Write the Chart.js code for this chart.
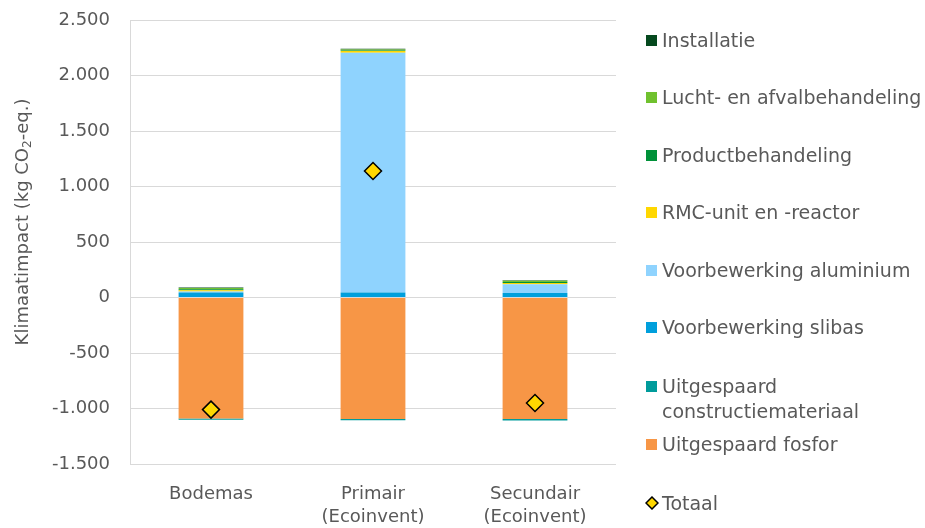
<!DOCTYPE html>
<html>
<head>
<meta charset="utf-8">
<script src="https://cdn.jsdelivr.net/npm/chart.js@4/dist/chart.umd.min.js"></script>
<style>
  html, body { margin: 0; padding: 0; background: #fff; }
  #wrap { position: relative; width: 925px; height: 528px; }
  canvas { position: absolute; left: 0; top: 0; }
  .lg { position: absolute; left: 646px; font-family: "DejaVu Sans", sans-serif; font-size: 19px; color: #595959; line-height: 25px; white-space: nowrap; }
  .lg .sw { position: absolute; left: 0; top: 7px; width: 11px; height: 11px; }
  .lg .tx { position: absolute; left: 16px; top: 0; }
</style>
</head>
<body>
<div id="wrap">
  <canvas id="c" width="925" height="528"></canvas>
  <div id="legend"></div>
</div>
<script>
// ---- data ----
const categories = ['Bodemas', ['Primair', '(Ecoinvent)'], ['Secundair', '(Ecoinvent)']];
const uitgespaardFosfor = [-1090, -1095, -1095];
const uitgespaardConstructie = [-12, -10, -12];
const voorbewerkingSlibas = [45, 45, 40];
const voorbewerkingAluminium = [10, 2160, 80];
const rmcUnit = [10, 15, 10];
const productbehandeling = [10, 5, 10];
const luchtAfval = [10, 10, 10];
const installatie = [5, 5, 5];
const totaal = [-1010, 1140, -950];
const yTicks = [-1500, -1000, -500, 0, 500, 1000, 1500, 2000, 2500];

const series = [
  { label: 'Uitgespaard fosfor', data: uitgespaardFosfor, color: '#F79646' },
  { label: ['Uitgespaard', 'constructiemateriaal'], data: uitgespaardConstructie, color: '#009B9B' },
  { label: 'Voorbewerking slibas', data: voorbewerkingSlibas, color: '#009FDC' },
  { label: 'Voorbewerking aluminium', data: voorbewerkingAluminium, color: '#8FD3FE' },
  { label: 'RMC-unit en -reactor', data: rmcUnit, color: '#FFD700' },
  { label: 'Productbehandeling', data: productbehandeling, color: '#009139' },
  { label: 'Lucht- en afvalbehandeling', data: luchtAfval, color: '#70C12E' },
  { label: 'Installatie', data: installatie, color: '#05491E' }
];

const datasets = series.map(s => ({
  type: 'bar',
  label: Array.isArray(s.label) ? s.label.join(' ') : s.label,
  data: s.data,
  backgroundColor: s.color,
  borderWidth: 0,
  stack: 'a',
  barPercentage: 0.4,
  categoryPercentage: 1.0,
  order: 2
}));
datasets.push({
  type: 'line',
  label: 'Totaal',
  data: totaal,
  stack: 'tot',
  showLine: false,
  pointStyle: 'rectRot',
  pointRadius: 8.5,
  pointHoverRadius: 8.5,
  pointBackgroundColor: '#FFD700',
  pointBorderColor: '#000000',
  pointBorderWidth: 1.5,
  order: 1
});

const fmt = v => {
  const s = Math.abs(v).toString().replace(/\B(?=(\d{3})+(?!\d))/g, '.');
  return (v < 0 ? '-' : '') + s;
};

const FONT = '"DejaVu Sans", sans-serif';

// y-axis title drawn at Excel's position
const yTitlePlugin = {
  id: 'yTitle',
  afterDraw(chart) {
    const ctx = chart.ctx;
    ctx.save();
    ctx.translate(23, 222);
    ctx.rotate(-Math.PI / 2);
    ctx.fillStyle = '#595959';
    ctx.textBaseline = 'middle';
    const f1 = '18px ' + FONT, f2 = '12px ' + FONT;
    const parts = [['Klimaatimpact (kg CO', f1, 0], ['2', f2, 5], ['-eq.)', f1, 0]];
    let total = 0;
    parts.forEach(p => { ctx.font = p[1]; total += ctx.measureText(p[0]).width; });
    let x = -total / 2;
    ctx.textAlign = 'left';
    parts.forEach(p => { ctx.font = p[1]; ctx.fillText(p[0], x, p[2]); x += ctx.measureText(p[0]).width; });
    ctx.restore();
  }
};

new Chart(document.getElementById('c'), {
  data: { labels: categories, datasets },
  plugins: [yTitlePlugin],
  options: {
    responsive: false,
    animation: false,
    layout: { autoPadding: false, padding: { left: 0, right: 309, top: 20, bottom: 0 } },
    plugins: { legend: { display: false }, tooltip: { enabled: false } },
    scales: {
      x: {
        stacked: true,
        grid: { display: false },
        border: { display: false },
        ticks: { color: '#595959', font: { family: FONT, size: 18, lineHeight: 1.27 }, padding: 11, maxRotation: 0 },
        afterFit: s => { s.height = 64; }
      },
      y: {
        stacked: true,
        min: -1500, max: 2500,
        afterBuildTicks: s => { s.ticks = yTicks.map(v => ({ value: v })); },
        ticks: { color: '#595959', font: { family: FONT, size: 18 }, padding: 20, callback: v => fmt(v) },
        grid: { color: '#D9D9D9', lineWidth: 1, drawTicks: false },
        border: { display: true, color: '#D9D9D9' },
        afterFit: s => { s.width = 130; s.paddingTop = 0; s.paddingBottom = 0; }
      }
    }
  }
});

// HTML legend (Excel order: top to bottom)
const legendItems = [
  { text: 'Installatie', color: '#05491E', y: 40 },
  { text: 'Lucht- en afvalbehandeling', color: '#70C12E', y: 97 },
  { text: 'Productbehandeling', color: '#009139', y: 155 },
  { text: 'RMC-unit en -reactor', color: '#FFD700', y: 212 },
  { text: 'Voorbewerking aluminium', color: '#8FD3FE', y: 270 },
  { text: 'Voorbewerking slibas', color: '#009FDC', y: 327 },
  { text: 'Uitgespaard<br>constructiemateriaal', color: '#009B9B', y: 386 },
  { text: 'Uitgespaard fosfor', color: '#F79646', y: 444 },
  { text: 'Totaal', color: null, y: 503 }
];
const lg = document.getElementById('legend');
legendItems.forEach(it => {
  const d = document.createElement('div');
  d.className = 'lg';
  d.style.top = (it.y - 12.5) + 'px';
  let sw;
  if (it.color) {
    sw = '<span class="sw" style="background:' + it.color + '"></span>';
  } else {
    sw = '<svg style="position:absolute;left:-1px;top:5px" width="14" height="14"><polygon points="7,1 13,7 7,13 1,7" fill="#FFD700" stroke="#000" stroke-width="1.5"/></svg>';
  }
  d.innerHTML = sw + '<span class="tx">' + it.text + '</span>';
  lg.appendChild(d);
});
</script>
</body>
</html>
